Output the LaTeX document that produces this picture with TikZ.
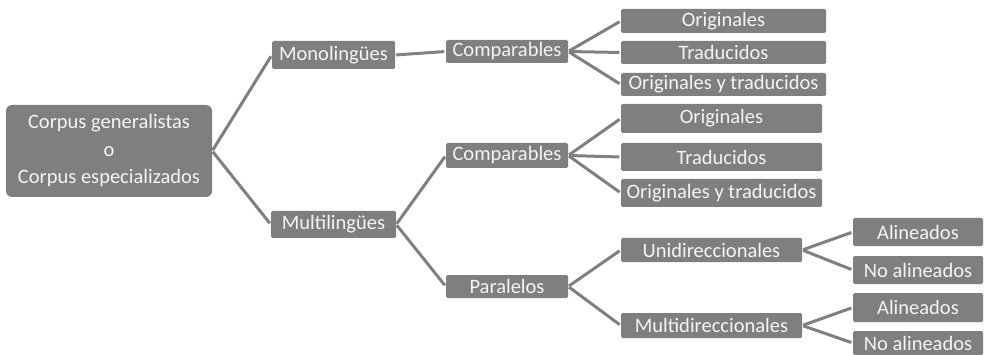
\documentclass[tikz,border=0pt]{standalone}
\usepackage{fontspec}
\setmainfont{Carlito}
\definecolor{boxgray}{HTML}{7F7F7F}
\definecolor{boxtext}{HTML}{F4F4F4}
\definecolor{linkgray}{HTML}{808080}
\begin{document}
\begin{tikzpicture}[x=1pt,y=-1pt,
  box/.style={fill=boxgray, text=boxtext, rounded corners=1.5pt, inner sep=0pt,
    font=\fontsize{20.5}{27.5}\selectfont, align=center},
  link/.style={draw=linkgray, line width=3pt, shorten <=1pt, shorten >=1.5pt}]
  \useasboundingbox (0,0) rectangle (984,355);
  \clip (0,0) rectangle (984,355);
  \fill[white] (0,0) rectangle (984,355);

  % root
  \node[box, rounded corners=6pt, minimum width=206pt, minimum height=92pt] (root) at (109,151)
    {Corpus generalistas\\o\\Corpus especializados};

  % second level
  \node[box, minimum width=123pt, minimum height=28pt] (mono) at (333.5,55) {Monolingües};
  \node[box, minimum width=125pt, minimum height=27pt] (multi) at (333.5,224.5) {Multilingües};

  % third level
  \node[box, minimum width=122pt, minimum height=23pt] (comp1) at (507,51.5) {Comparables};
  \node[box, minimum width=122pt, minimum height=25pt] (comp2) at (507,155.5) {Comparables};
  \node[box, minimum width=122pt, minimum height=23pt] (paral) at (507,286.5) {Paralelos};

  % leaves under the monolingual comparables
  \node[box, minimum width=205pt, minimum height=24pt] (o1) at (723.5,21) {Originales};
  \node[box, minimum width=205pt, minimum height=23pt] (t1) at (723.5,52.5) {Traducidos};
  \node[box, minimum width=205pt, minimum height=23pt] (ot1) at (723.5,84.5) {Originales y traducidos};

  % leaves under the multilingual comparables
  \node[box, minimum width=201pt, minimum height=29pt] (o2) at (721.5,118.5) {Originales};
  \node[box, minimum width=201pt, minimum height=28pt] (t2) at (721.5,157) {Traducidos};
  \node[box, minimum width=201pt, minimum height=28pt] (ot2) at (721.5,193) {Originales y traducidos};

  % parallel corpora
  \node[box, minimum width=181pt, minimum height=24pt] (uni) at (711.5,250) {Unidireccionales};
  \node[box, minimum width=181pt, minimum height=25pt] (multid) at (711.5,325.5) {Multidireccionales};

  \node[box, minimum width=130pt, minimum height=28pt] (a1) at (918,232) {Alineados};
  \node[box, minimum width=130pt, minimum height=28pt] (na1) at (918,270) {No alineados};
  \node[box, minimum width=130pt, minimum height=29pt] (a2) at (918,307.5) {Alineados};
  \node[box, minimum width=130pt, minimum height=24pt] (na2) at (918,343) {No alineados};

  % connectors
  \draw[link] (root.east) -- (mono.west);
  \draw[link] (root.east) -- (multi.west);
  \draw[link] (mono.east) -- (comp1.west);
  \draw[link] (comp1.east) -- (o1.west);
  \draw[link] (comp1.east) -- (t1.west);
  \draw[link] (comp1.east) -- (ot1.west);
  \draw[link] (multi.east) -- (comp2.west);
  \draw[link] (multi.east) -- (paral.west);
  \draw[link] (comp2.east) -- (o2.west);
  \draw[link] (comp2.east) -- (t2.west);
  \draw[link] (comp2.east) -- (ot2.west);
  \draw[link] (paral.east) -- (uni.west);
  \draw[link] (paral.east) -- (multid.west);
  \draw[link] (uni.east) -- (a1.west);
  \draw[link] (uni.east) -- (na1.west);
  \draw[link] (multid.east) -- (a2.west);
  \draw[link] (multid.east) -- (na2.west);
\end{tikzpicture}
\end{document}
